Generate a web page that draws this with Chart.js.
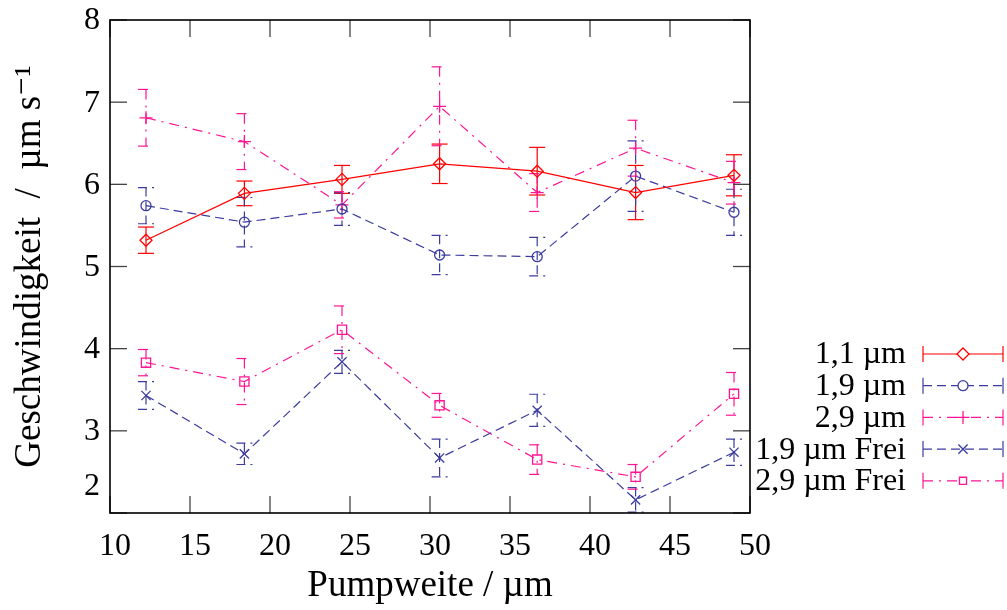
<!DOCTYPE html>
<html>
<head>
<meta charset="utf-8">
<script src="https://cdn.jsdelivr.net/npm/chart.js@4/dist/chart.umd.min.js"></script>
<style>
  html, body { margin: 0; padding: 0; background: #fff; }
  canvas { display: block; }
</style>
</head>
<body>
<canvas id="chart" width="1007" height="610"></canvas>
<script>
// Pumpweite (µm) of the measured positions
const pumpweite = [12.25, 18.4, 24.5, 30.6, 36.7, 42.85, 49.0];

// Geschwindigkeit (µm/s) and its uncertainty for each particle size
const v11  = [5.32, 5.89, 6.06, 6.25, 6.16, 5.90, 6.11];
const e11  = [0.16, 0.15, 0.17, 0.24, 0.29, 0.33, 0.25];
const v19  = [5.74, 5.54, 5.70, 5.14, 5.12, 6.10, 5.66];
const e19  = [0.22, 0.30, 0.20, 0.24, 0.235, 0.43, 0.28];
const v29  = [6.81, 6.52, 5.75, 6.95, 5.90, 6.44, 6.02];
const e29  = [0.345, 0.34, 0.16, 0.48, 0.23, 0.34, 0.26];
const v19f = [3.43, 2.72, 3.84, 2.67, 3.25, 2.16, 2.74];
const e19f = [0.17, 0.13, 0.14, 0.23, 0.195, 0.15, 0.16];
const v29f = [3.83, 3.60, 4.23, 3.31, 2.65, 2.44, 3.45];
const e29f = [0.16, 0.28, 0.29, 0.145, 0.18, 0.15, 0.26];

const seriesNames = ['1,1 µm', '1,9 µm', '2,9 µm', '1,9 µm Frei', '2,9 µm Frei'];
const xTicks = [10, 15, 20, 25, 30, 35, 40, 45, 50];
const yTicks = [2, 3, 4, 5, 6, 7, 8];
const xTitle = 'Pumpweite / µm';
const yTitle = 'Geschwindigkeit  /  µm s⁻¹';

const SERIF = '"Liberation Serif", "DejaVu Serif", serif';
const RED = '#ff0000';
const BLUE = '#3b3ba0';
const PINK = '#ff1493';
const DASH = [9, 5];
const DASHDOT = [10, 6, 2, 6];
const CLEAR = 'rgba(0,0,0,0)';

const toPoints = (vals) => vals.map((v, i) => ({ x: pumpweite[i], y: v }));

function series(label, vals, errs, color, dash, style, radius) {
  return {
    label,
    data: toPoints(vals),
    errors: errs,
    showLine: true,
    borderColor: color,
    borderWidth: 1.2,
    borderDash: dash,
    backgroundColor: CLEAR,
    pointStyle: style,
    pointRadius: radius,
    pointBorderWidth: 1.3,
    pointBorderColor: color,
    pointBackgroundColor: CLEAR,
    tension: 0,
    clip: false
  };
}

const datasets = [
  series(seriesNames[0], v11,  e11,  RED,  [],      'rectRot',  6),
  series(seriesNames[1], v19,  e19,  BLUE, DASH,    'circle',   5),
  series(seriesNames[2], v29,  e29,  PINK, DASHDOT, 'cross',    6.5),
  series(seriesNames[3], v19f, e19f, BLUE, DASH,    'crossRot', 6.5),
  series(seriesNames[4], v29f, e29f, PINK, DASHDOT, 'rect',     6.5)
];

const CAP = 8;      // half width of error bar caps
const TICK = 17;    // inward tick length

function seg(ctx, x1, y1, x2, y2) {
  ctx.beginPath();
  ctx.moveTo(x1, y1);
  ctx.lineTo(x2, y2);
  ctx.stroke();
}

// vertical error bars with caps, in the style of each series
const errorBars = {
  id: 'errorBars',
  beforeDatasetsDraw(chart) {
    const { ctx, scales: { x, y } } = chart;
    chart.data.datasets.forEach((ds) => {
      ctx.save();
      ctx.strokeStyle = ds.borderColor;
      ctx.lineWidth = ds.borderWidth;
      ctx.setLineDash(ds.borderDash || []);
      ds.data.forEach((p, j) => {
        const px = x.getPixelForValue(p.x);
        const top = y.getPixelForValue(p.y + ds.errors[j]);
        const bot = y.getPixelForValue(p.y - ds.errors[j]);
        seg(ctx, px, top, px, bot);
        seg(ctx, px - CAP, top, px + CAP, top);
        seg(ctx, px - CAP, bot, px + CAP, bot);
      });
      ctx.restore();
    });
  }
};

// closed frame with inward ticks on all four sides, plus y tick labels
const frame = {
  id: 'frame',
  afterDatasetsDraw(chart) {
    const { ctx, chartArea: a, scales: { x, y } } = chart;
    ctx.save();
    ctx.strokeStyle = '#444';
    ctx.lineWidth = 1.3;
    xTicks.forEach((v) => {
      const px = x.getPixelForValue(v);
      seg(ctx, px, a.bottom, px, a.bottom - TICK);
      seg(ctx, px, a.top, px, a.top + TICK);
    });
    yTicks.forEach((v) => {
      const py = y.getPixelForValue(v);
      seg(ctx, a.left, py, a.left + TICK, py);
      seg(ctx, a.right, py, a.right - TICK, py);
    });
    ctx.strokeStyle = '#000';
    ctx.lineWidth = 1.6;
    ctx.strokeRect(a.left, a.top, a.right - a.left, a.bottom - a.top);

    ctx.fillStyle = '#000';
    ctx.font = '32px ' + SERIF;
    ctx.textAlign = 'right';
    ctx.textBaseline = 'middle';
    yTicks.forEach((v, i) => {
      let py = y.getPixelForValue(v);
      if (i === 0) py -= 27;   // lowest label lifted clear of the x labels
      ctx.fillText(String(v), a.left - 10, py + 1);
    });
    ctx.restore();
  }
};

// legend at the right: label, then line sample with error caps and marker
const sideLegend = {
  id: 'sideLegend',
  afterDraw(chart) {
    const { ctx } = chart;
    const x0 = 923, x1 = 1003, xm = (x0 + x1) / 2, textRight = 906;
    chart.data.datasets.forEach((ds, i) => {
      const yy = 354 + i * 31.7;
      ctx.save();
      ctx.fillStyle = '#000';
      ctx.font = '32px ' + SERIF;
      ctx.textAlign = 'right';
      ctx.textBaseline = 'middle';
      ctx.fillText(ds.label, textRight, yy + 1);

      ctx.strokeStyle = ds.borderColor;
      ctx.lineWidth = ds.borderWidth;
      ctx.setLineDash(ds.borderDash || []);
      seg(ctx, x0, yy, x1, yy);
      ctx.setLineDash([]);
      seg(ctx, x0, yy - CAP, x0, yy + CAP);
      seg(ctx, x1, yy - CAP, x1, yy + CAP);

      // hollow marker: clear the line under it, then outline
      ctx.fillStyle = '#fff';
      ctx.lineWidth = ds.pointBorderWidth;
      Chart.helpers.drawPoint(ctx, {
        pointStyle: ds.pointStyle,
        radius: ds.pointStyle === 'rect' ? 5 : ds.pointRadius,
        rotation: 0,
        borderWidth: ds.pointBorderWidth
      }, xm, yy);
      ctx.restore();
    });
  }
};

new Chart(document.getElementById('chart'), {
  type: 'scatter',
  data: { datasets },
  options: {
    responsive: false,
    animation: false,
    devicePixelRatio: 1,
    layout: { padding: { left: 0, top: 20, right: 257, bottom: 0 } },
    plugins: {
      legend: { display: false },
      tooltip: { enabled: false }
    },
    scales: {
      x: {
        type: 'linear',
        min: 10,
        max: 50,
        afterBuildTicks: (s) => { s.ticks = xTicks.map((v) => ({ value: v })); },
        afterFit: (s) => { s.height = 97; },
        grid: { display: false, drawTicks: false },
        border: { display: false },
        ticks: {
          color: '#000',
          font: { family: SERIF, size: 32 },
          padding: 14,
          labelOffset: 5,
          maxRotation: 0,
          autoSkip: false
        },
        title: {
          display: true,
          text: xTitle,
          color: '#000',
          font: { family: SERIF, size: 37 },
          padding: { top: 0, bottom: 2 }
        }
      },
      y: {
        type: 'linear',
        min: 2,
        max: 8,
        afterBuildTicks: (s) => { s.ticks = yTicks.map((v) => ({ value: v })); },
        afterFit: (s) => { s.width = 110; },
        grid: { display: false, drawTicks: false },
        border: { display: false },
        ticks: { display: false },
        title: {
          display: true,
          text: yTitle,
          color: '#000',
          font: { family: SERIF, size: 37 },
          padding: { top: 8, bottom: 0 }
        }
      }
    }
  },
  plugins: [errorBars, frame, sideLegend]
});
</script>
</body>
</html>
